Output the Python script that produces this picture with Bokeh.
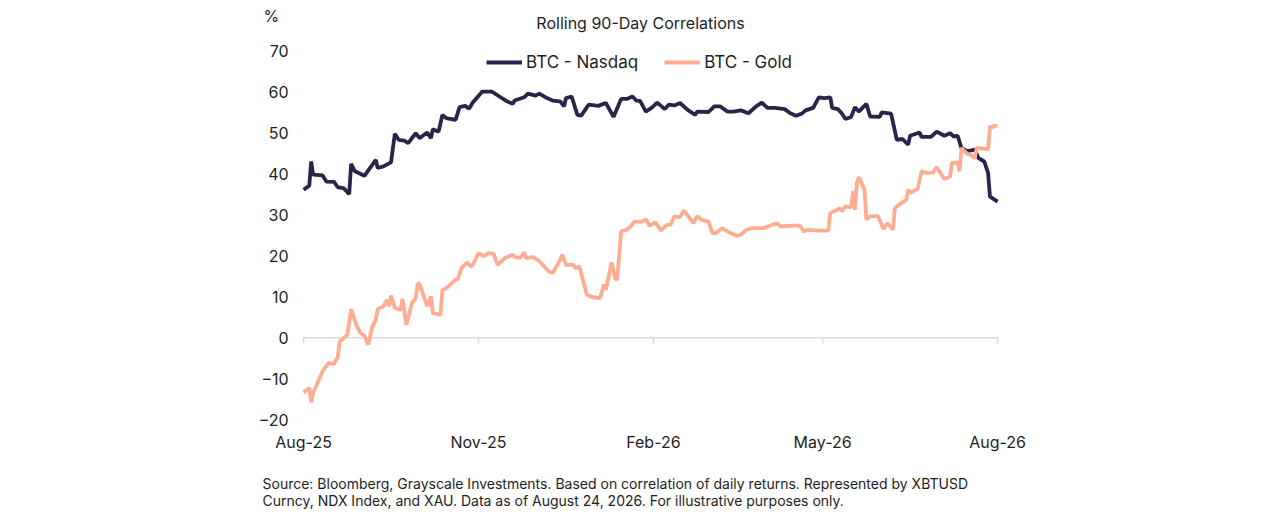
import pandas as pd
from bokeh.plotting import figure
from bokeh.models import (Range1d, FixedTicker, DatetimeTickFormatter, Label, Legend,
                          LegendItem, ColumnDataSource)
from bokeh.embed import file_html
from bokeh.resources import INLINE

# days after 2025-08-24 and rolling 90-day correlation (%)
start = pd.Timestamp("2025-08-24")

nasdaq_day = [0, 3, 4, 5, 10, 12, 16, 18, 21, 24, 25, 27, 32, 38, 39, 42, 46, 48, 50, 53,
              55, 59, 61, 65, 67, 68, 71, 73, 75, 80, 82, 85, 87, 89, 94, 99, 103, 107, 110,
              111, 116, 118, 122, 124, 128, 131, 135, 137, 138, 141, 144, 146, 150, 155, 159,
              163, 167, 170, 173, 175, 177, 180, 183, 186, 190, 192, 195, 198, 202, 206, 207,
              213, 216, 219, 223, 226, 230, 234, 238, 241, 244, 248, 253, 256, 259, 262, 264,
              268, 271, 274, 277, 278, 281, 283, 285, 288, 290, 292, 296, 298, 303, 304, 309,
              312, 315, 318, 319, 324, 325, 330, 333, 337, 340, 342, 344, 346, 349, 353, 355,
              358, 360, 361, 365]
nasdaq_corr = [36.2, 37.2, 43.1, 39.9, 39.7, 38.2, 38.1, 36.8, 36.6, 35.1, 42.5, 40.7, 39.6,
               43.5, 41.5, 41.9, 42.9, 49.9, 48.4, 48.2, 47.6, 50.0, 48.8, 50.2, 48.8, 51.0,
               50.4, 54.5, 53.7, 53.3, 56.4, 56.7, 56.0, 57.5, 60.2, 60.2, 59.0, 57.8, 57.2,
               58.0, 58.8, 59.7, 59.2, 59.7, 58.6, 58.0, 57.8, 56.6, 58.6, 59.0, 54.5, 54.3,
               57.0, 56.7, 57.4, 54.0, 58.4, 58.4, 59.0, 58.0, 57.9, 55.3, 56.2, 57.5, 55.9,
               57.0, 56.8, 57.4, 55.7, 54.5, 55.3, 55.2, 56.6, 56.6, 55.3, 55.3, 55.6, 54.9,
               56.6, 57.5, 56.2, 56.2, 55.9, 54.9, 54.3, 54.8, 55.6, 56.2, 58.8, 58.6, 58.8,
               56.2, 55.9, 54.9, 53.5, 54.0, 56.4, 55.3, 57.2, 54.1, 54.0, 55.1, 54.8, 48.4,
               48.6, 47.2, 49.4, 50.2, 49.1, 49.1, 50.4, 49.4, 50.0, 49.2, 49.4, 46.4, 45.6,
               46.0, 43.9, 43.1, 40.3, 34.5, 33.3]

gold_day = [0, 3, 4, 5, 10, 13, 16, 18, 19, 21, 23, 25, 28, 30, 32, 34, 36, 38, 39, 42, 44,
            45, 46, 48, 51, 52, 54, 57, 59, 60, 61, 65, 67, 68, 72, 73, 75, 80, 81, 83, 86,
            88, 89, 92, 95, 97, 100, 102, 106, 110, 111, 114, 116, 117, 121, 124, 129, 131,
            135, 136, 138, 142, 143, 145, 149, 152, 156, 158, 159, 162, 164, 165, 167, 170,
            172, 174, 178, 180, 182, 185, 188, 191, 193, 195, 198, 200, 205, 207, 209, 213,
            215, 217, 220, 223, 228, 230, 233, 236, 242, 244, 249, 251, 257, 261, 263, 265,
            271, 276, 277, 280, 282, 283, 285, 288, 289, 290, 291, 292, 295, 296, 298, 302,
            305, 307, 310, 311, 314, 317, 318, 319, 323, 325, 328, 331, 333, 337, 340, 341,
            344, 345, 346, 349, 351, 353, 354, 360, 361, 362, 363, 365]
gold_corr = [-13.4, -12.3, -15.8, -13.5, -8.2, -6.2, -6.4, -4.7, -0.9, -0.1, 0.7, 7.0, 2.8,
             1.1, 0.5, -1.7, 2.4, 4.4, 7.0, 7.7, 9.3, 7.7, 10.3, 7.3, 6.8, 9.5, 3.2, 8.5, 9.7,
             13.2, 13.2, 7.7, 10.1, 6.0, 5.6, 11.7, 12.1, 14.2, 14.2, 17.0, 18.4, 17.4, 17.8,
             20.7, 19.9, 20.7, 20.5, 17.8, 19.5, 20.3, 19.7, 19.5, 20.9, 19.5, 19.7, 18.7,
             16.2, 15.8, 19.1, 20.3, 17.8, 17.8, 17.0, 17.4, 10.5, 9.9, 9.7, 13.0, 11.7, 18.4,
             14.3, 14.3, 26.0, 26.4, 27.2, 28.4, 28.4, 29.0, 27.4, 28.2, 26.2, 27.6, 27.6,
             29.7, 29.5, 31.1, 28.0, 29.7, 28.9, 28.4, 25.6, 25.6, 26.8, 26.0, 24.9, 25.2,
             26.4, 26.8, 26.8, 27.2, 28.0, 27.2, 27.4, 27.4, 26.0, 26.4, 26.2, 26.2, 30.5,
             31.1, 31.7, 30.9, 32.1, 31.9, 35.8, 31.3, 37.8, 39.3, 36.2, 28.9, 29.7, 29.8,
             26.6, 28.0, 26.4, 31.7, 32.8, 33.7, 36.2, 35.4, 36.4, 40.7, 40.3, 40.4, 41.7,
             38.8, 39.4, 42.7, 42.9, 40.7, 46.4, 45.0, 44.7, 43.9, 46.4, 46.1, 51.7, 51.3,
             51.8, 51.8]

x_ticks = ["2025-08-24", "2025-11-24", "2026-02-24", "2026-05-24", "2026-08-24"]
y_ticks = [-20, -10, 0, 10, 20, 30, 40, 50, 60, 70]

NAVY = "#2b2349"
SALMON = "#ffad92"
GREY = "#d9d9d9"
TEXT = "#1e1e1e"
FONT = "Inter"

nasdaq_src = ColumnDataSource(dict(date=start + pd.to_timedelta(nasdaq_day, unit="D"),
                                   corr=nasdaq_corr))
gold_src = ColumnDataSource(dict(date=start + pd.to_timedelta(gold_day, unit="D"),
                                 corr=gold_corr))
tick_dates = pd.to_datetime(x_ticks)
tick_ms = [d.value // 10**6 for d in tick_dates]
DAY_MS = 86_400_000

# the frame fills the whole canvas so every text can live inside it;
# ranges are padded so the data area lands at x 303..997, y 51..419
x_range = Range1d(tick_ms[0] - 159.4 * DAY_MS, tick_ms[-1] + 148.8 * DAY_MS)
y_range = Range1d(-42.74, 82.47)

p = figure(width=1280, height=512, x_axis_type="datetime", x_range=x_range, y_range=y_range,
           output_backend="svg", toolbar_location=None, min_border=0)
p.title = None
p.grid.visible = False
p.outline_line_color = None

ya = p.yaxis[0]
ya.fixed_location = tick_ms[0]
ya.ticker = FixedTicker(ticks=y_ticks)
ya.axis_line_color = None
ya.major_tick_line_color = None
ya.major_tick_out = 0
ya.minor_tick_line_color = None
ya.major_label_standoff = 15
ya.major_label_text_font = FONT
ya.major_label_text_font_size = "16px"
ya.major_label_text_color = TEXT

xa = p.xaxis[0]
xa.fixed_location = y_ticks[0]
xa.ticker = FixedTicker(ticks=tick_ms)
xa.formatter = DatetimeTickFormatter(days="%b-%y", months="%b-%y", years="%b-%y")
xa.axis_line_color = None
xa.major_tick_line_color = None
xa.major_tick_out = 0
xa.minor_tick_line_color = None
xa.major_label_standoff = 12
xa.major_label_text_font = FONT
xa.major_label_text_font_size = "16px"
xa.major_label_text_color = TEXT

# zero line with short ticks below it
p.segment(x0=[tick_dates[0]], y0=[0], x1=[tick_dates[-1]], y1=[0],
          line_color=GREY, line_width=1.5)
p.segment(x0=tick_dates, y0=0, x1=tick_dates, y1=-1.4, line_color=GREY, line_width=1.5)

r1 = p.line("date", "corr", source=nasdaq_src, line_color=NAVY, line_width=3.8)
r2 = p.line("date", "corr", source=gold_src, line_color=SALMON, line_width=3.8)

legend = Legend(items=[LegendItem(label="BTC - Nasdaq", renderers=[r1]),
                       LegendItem(label="BTC - Gold", renderers=[r2])],
                orientation="horizontal", location=(486, 440),
                glyph_width=36, glyph_height=20, label_standoff=4, spacing=26,
                padding=0, margin=0, border_line_color=None, background_fill_alpha=0,
                label_text_font=FONT, label_text_font_size="17px", label_text_color=TEXT)
p.add_layout(legend)


def screen_text(x, y, text, align="left", size="16px"):
    p.add_layout(Label(x=x, y=y, x_units="screen", y_units="screen", text=text,
                       text_align=align, text_baseline="middle", text_font=FONT,
                       text_font_size=size, text_color=TEXT))


screen_text(640, 490, "Rolling 90-Day Correlations", align="center")
screen_text(263, 497, "%")
screen_text(262, 29, "Source: Bloomberg, Grayscale Investments. Based on correlation of "
                     "daily returns. Represented by XBTUSD", size="14px")
screen_text(262, 12, "Curncy, NDX Index, and XAU. Data as of August 24, 2026. "
                     "For illustrative purposes only.", size="14px")

open("out.html", "w").write(file_html(p, INLINE))
